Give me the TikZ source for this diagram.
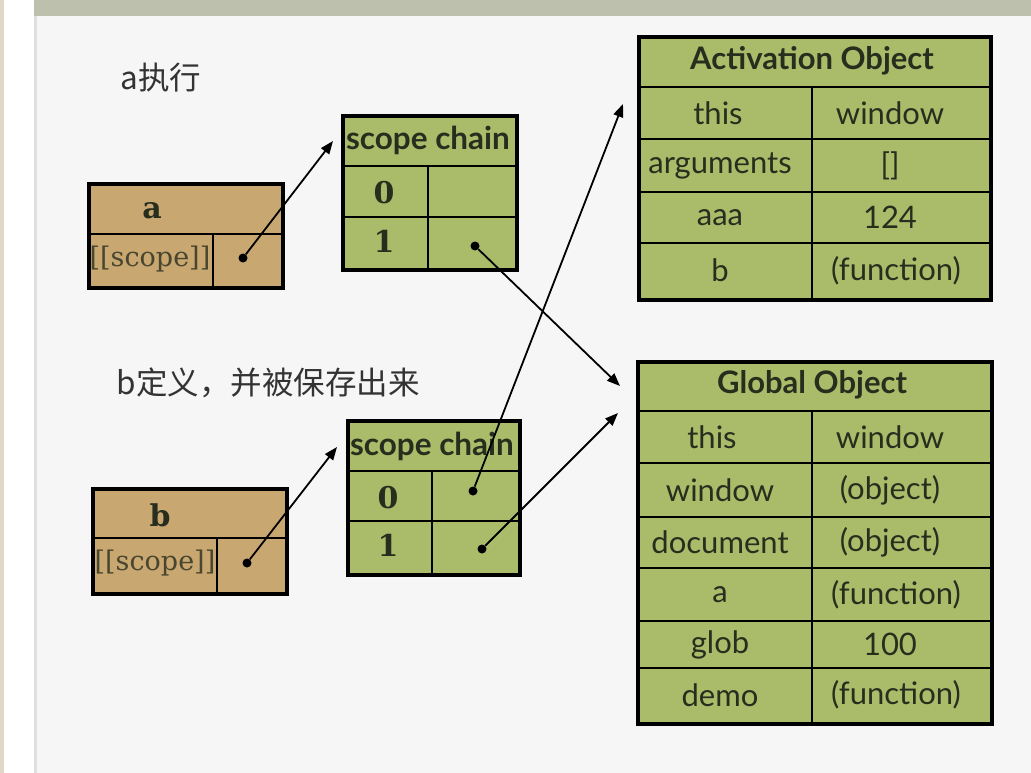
\documentclass[tikz,border=0pt]{standalone}
\usepackage{fontspec}
\setmainfont{Lato}
\newfontfamily\seriffont{DejaVu Serif}
\newfontfamily\cjk{Noto Sans CJK SC}
\usetikzlibrary{arrows.meta, positioning}
\definecolor{boxbrown}{RGB}{201,167,113}
\definecolor{boxgreen}{RGB}{170,188,106}
\definecolor{inkdark}{RGB}{40,46,30}
\definecolor{slidebg}{RGB}{246,246,246}
\definecolor{topband}{RGB}{188,192,172}
\definecolor{edgetan}{RGB}{226,214,200}
\tikzset{
  brownbox/.style={rectangle, draw=black, line width=4pt, fill=boxbrown,
                   anchor=north west, inner sep=0pt},
  greenbox/.style={rectangle, draw=black, line width=4pt, fill=boxgreen,
                   anchor=north west, inner sep=0pt},
  cellline/.style={line width=2pt, draw=black},
  headtxt/.style={font=\fontsize{31}{34}\selectfont\bfseries, text=inkdark},
  chaintxt/.style={font=\fontsize{31.5}{34}\selectfont\bfseries, text=inkdark},
  celltxt/.style={font=\fontsize{31}{34}\selectfont, text=inkdark},
  sboldtxt/.style={font=\seriffont\fontsize{30}{34}\selectfont\bfseries, text=inkdark},
  stxt/.style={font=\seriffont\fontsize{27}{30}\selectfont, text=inkdark!80!boxbrown},
  titletxt/.style={font=\cjk\fontsize{31.5}{34}\selectfont, text=black!80, anchor=west},
  ptr/.style={circle, fill=black, inner sep=0pt, minimum size=9pt},
  arr/.style={-{Triangle[length=13pt, width=10pt]}, line width=1.8pt},
}

\begin{document}
\begin{tikzpicture}[x=1pt, y=-1pt]
  \useasboundingbox (0,0) rectangle (1031,773);
  % slide background
  \fill[slidebg] (0,0) rectangle (1031,773);
  \fill[topband] (30,0) rectangle (1031,16);
  \fill[white] (4,0) rectangle (34,773);
  \fill[edgetan] (0,0) rectangle (4,773);
  \draw[black!12, line width=3pt] (35,16) -- (35,773);

  % titles
  \node[titletxt] (titlea) at (117,78)  {a执行};
  \node[titletxt] (titleb) at (113,383) {b定义，并被保存出来};

  % function a
  \node[brownbox, minimum width=194pt, minimum height=104pt] (boxa) at (87,182) {};
  \draw[cellline] (87,234) -- (281,234) (213,234) -- (213,286);
  \node[sboldtxt] (namea)  at (152,211) {a};
  \node[stxt]     (scopea) at (150,259) {[[scope]]};
  \node[ptr]      (ptra)   at (243,258) {};

  % function b
  \node[brownbox, minimum width=194pt, minimum height=105pt] (boxb) at (91,487) {};
  \draw[cellline] (91,538) -- (285,538) (217,538) -- (217,592);
  \node[sboldtxt] (nameb)  at (160,515) {b};
  \node[stxt]     (scopeb) at (155,563) {[[scope]]};
  \node[ptr]      (ptrb)   at (247,563) {};

  % scope chain of a
  \node[greenbox, minimum width=174pt, minimum height=154pt] (chaina) at (341,114) {};
  \draw[cellline] (341,166) -- (515,166) (341,217) -- (515,217) (428,166) -- (428,268);
  \node[chaintxt] (chainahead) at (428,140) {scope chain};
  \node[sboldtxt] (chaina0) at (384,193) {0};
  \node[sboldtxt] (chaina1) at (384,241) {1};
  \node[ptr]      (ptra1)   at (475,246) {};

  % scope chain of b
  \node[greenbox, minimum width=172pt, minimum height=154pt] (chainb) at (346,419) {};
  \draw[cellline] (346,471) -- (518,471) (346,521) -- (518,521) (432,471) -- (432,573);
  \node[chaintxt] (chainbhead) at (432,446) {scope chain};
  \node[sboldtxt] (chainb0) at (388,498) {0};
  \node[sboldtxt] (chainb1) at (388,545) {1};
  \node[ptr]      (ptrb0)   at (473,491) {};
  \node[ptr]      (ptrb1)   at (482,549) {};

  % activation object
  \node[greenbox, minimum width=352pt, minimum height=263pt] (act) at (637,35) {};
  \draw[cellline] (637,87) -- (989,87) (637,139) -- (989,139)
                  (637,192) -- (989,192) (637,243) -- (989,243)
                  (812,87) -- (812,298);
  \node[headtxt] (acthead) at (812,61) {Activation Object};
  \node[celltxt] (actk1) at (718,113)   {this};
  \node[celltxt] (actv1) at (890,113)   {window};
  \node[celltxt] (actk2) at (720,165.5) {arguments};
  \node[celltxt] (actv2) at (890,165.5) {[]};
  \node[celltxt] (actk3) at (720,217.5) {aaa};
  \node[celltxt] (actv3) at (890,217.5) {124};
  \node[celltxt] (actk4) at (720,270.5) {b};
  \node[celltxt] (actv4) at (896,270.5) {(function)};

  % global object
  \node[greenbox, minimum width=354pt, minimum height=362pt] (glob) at (636,360) {};
  \draw[cellline] (636,411) -- (990,411) (636,463) -- (990,463)
                  (636,517) -- (990,517) (636,568) -- (990,568)
                  (636,621) -- (990,621) (636,668) -- (990,668)
                  (812,411) -- (812,722);
  \node[headtxt] (globhead) at (812,385) {Global Object};
  \node[celltxt] (globk1) at (712,437)   {this};
  \node[celltxt] (globv1) at (890,437)   {window};
  \node[celltxt] (globk2) at (720,490)   {window};
  \node[celltxt] (globv2) at (890,490)   {(object)};
  \node[celltxt] (globk3) at (720,542.5) {document};
  \node[celltxt] (globv3) at (890,542.5) {(object)};
  \node[celltxt] (globk4) at (720,594.5) {a};
  \node[celltxt] (globv4) at (896,594.5) {(function)};
  \node[celltxt] (globk5) at (720,644.5) {glob};
  \node[celltxt] (globv5) at (890,644.5) {100};
  \node[celltxt] (globk6) at (720,695)   {demo};
  \node[celltxt] (globv6) at (896,695)   {(function)};

  % arrow ends
  \coordinate (tipa)    at (333,141);
  \coordinate (tipb)    at (337,447);
  \coordinate (tipact)  at (623,104);
  \coordinate (tipglob) at (620,386);
  \coordinate (tipglobb) at (618,413);

  \draw[arr] (ptra)  -- (tipa);
  \draw[arr] (ptrb)  -- (tipb);
  \draw[arr] (ptra1) -- (tipglob);
  \draw[arr] (ptrb0) -- (tipact);
  \draw[arr] (ptrb1) -- (tipglobb);
\end{tikzpicture}
\end{document}
